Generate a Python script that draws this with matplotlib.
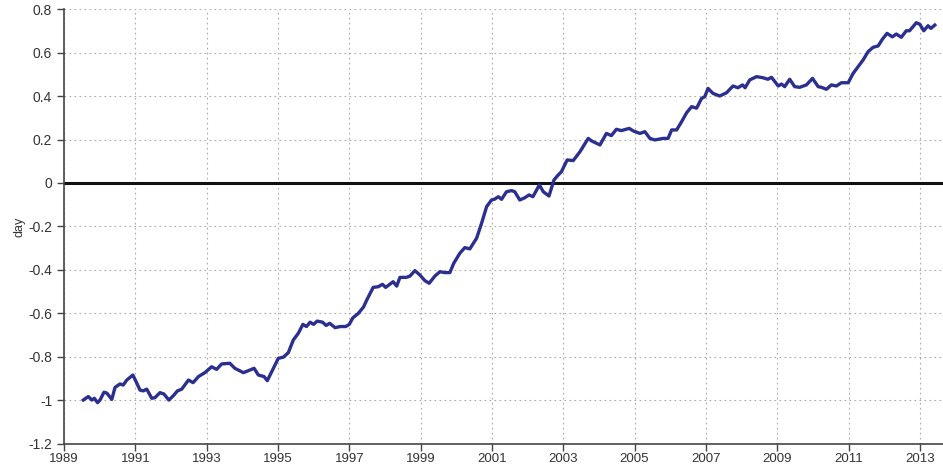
import matplotlib.pyplot as plt

plt.rcParams['font.family'] = ['Liberation Sans', 'DejaVu Sans']

# time (decimal years) and anomaly (day)
years = [
    1989.54, 1989.68, 1989.78, 1989.85, 1989.94, 1990.01, 1990.12, 1990.20, 1990.34, 1990.43,
    1990.57, 1990.66, 1990.76, 1990.82, 1990.93, 1991.02, 1991.13, 1991.22, 1991.32, 1991.46,
    1991.55, 1991.69, 1991.80, 1991.94, 1992.06, 1992.18, 1992.30, 1992.49, 1992.62, 1992.77,
    1992.95, 1993.14, 1993.28, 1993.42, 1993.65, 1993.79, 1994.03, 1994.17, 1994.33, 1994.45,
    1994.61, 1994.70, 1994.87, 1995.01, 1995.15, 1995.29, 1995.43, 1995.57, 1995.70, 1995.80,
    1995.90, 1996.00, 1996.10, 1996.25, 1996.35, 1996.45, 1996.60, 1996.75, 1996.90, 1997.00,
    1997.10, 1997.25, 1997.40, 1997.49, 1997.67, 1997.81, 1997.93, 1998.02, 1998.23, 1998.33,
    1998.42, 1998.60, 1998.70, 1998.84, 1998.98, 1999.12, 1999.24, 1999.40, 1999.54, 1999.68,
    1999.82, 1999.93, 2000.10, 2000.24, 2000.38, 2000.57, 2000.71, 2000.85, 2000.99, 2001.08,
    2001.18, 2001.27, 2001.41, 2001.55, 2001.64, 2001.78, 2001.92, 2002.04, 2002.15, 2002.33,
    2002.44, 2002.60, 2002.74, 2002.86, 2002.95, 2003.11, 2003.28, 2003.47, 2003.70, 2003.80,
    2004.03, 2004.21, 2004.35, 2004.49, 2004.63, 2004.85, 2004.97, 2005.15, 2005.29, 2005.43,
    2005.57, 2005.80, 2005.94, 2006.04, 2006.18, 2006.32, 2006.46, 2006.60, 2006.74, 2006.88,
    2006.97, 2007.06, 2007.20, 2007.39, 2007.58, 2007.76, 2007.90, 2008.03, 2008.10, 2008.23,
    2008.42, 2008.60, 2008.74, 2008.84, 2009.03, 2009.12, 2009.21, 2009.35, 2009.49, 2009.63,
    2009.82, 2009.99, 2010.15, 2010.24, 2010.38, 2010.52, 2010.66, 2010.80, 2010.99, 2011.13,
    2011.27, 2011.41, 2011.55, 2011.69, 2011.83, 2011.95, 2012.08, 2012.23, 2012.34, 2012.48,
    2012.62, 2012.71, 2012.81, 2012.90, 2013.00, 2013.11, 2013.23, 2013.31, 2013.42,
]
anomaly = [
    -0.998, -0.982, -0.998, -0.990, -1.010, -0.998, -0.962, -0.966, -0.995, -0.940,
    -0.924, -0.929, -0.906, -0.898, -0.883, -0.913, -0.952, -0.956, -0.948, -0.990,
    -0.987, -0.964, -0.970, -0.998, -0.979, -0.956, -0.948, -0.906, -0.918, -0.890,
    -0.872, -0.845, -0.857, -0.832, -0.829, -0.852, -0.872, -0.863, -0.852, -0.883,
    -0.890, -0.909, -0.852, -0.806, -0.801, -0.780, -0.722, -0.691, -0.650, -0.660,
    -0.640, -0.650, -0.635, -0.640, -0.655, -0.645, -0.665, -0.660, -0.660, -0.650,
    -0.620, -0.600, -0.570, -0.538, -0.480, -0.477, -0.466, -0.480, -0.454, -0.474,
    -0.434, -0.434, -0.428, -0.403, -0.423, -0.449, -0.461, -0.428, -0.408, -0.412,
    -0.412, -0.369, -0.323, -0.297, -0.303, -0.254, -0.185, -0.109, -0.078, -0.074,
    -0.063, -0.075, -0.040, -0.035, -0.040, -0.078, -0.068, -0.055, -0.063, -0.009,
    -0.040, -0.060, 0.014, 0.037, 0.052, 0.106, 0.103, 0.144, 0.205, 0.193,
    0.175, 0.228, 0.218, 0.247, 0.241, 0.251, 0.239, 0.228, 0.236, 0.205,
    0.198, 0.205, 0.205, 0.244, 0.244, 0.282, 0.323, 0.351, 0.344, 0.389,
    0.397, 0.435, 0.412, 0.400, 0.415, 0.446, 0.438, 0.451, 0.438, 0.474,
    0.489, 0.484, 0.477, 0.486, 0.446, 0.455, 0.443, 0.477, 0.443, 0.440,
    0.451, 0.481, 0.443, 0.440, 0.431, 0.451, 0.446, 0.461, 0.461, 0.504,
    0.535, 0.566, 0.604, 0.624, 0.630, 0.661, 0.688, 0.672, 0.685, 0.670,
    0.700, 0.700, 0.719, 0.737, 0.730, 0.700, 0.723, 0.711, 0.726,
]

xticks = list(range(1989, 2014, 2))
yticks = [0.8, 0.6, 0.4, 0.2, 0, -0.2, -0.4, -0.6, -0.8, -1, -1.2]
ytick_labels = ['0.8', '0.6', '0.4', '0.2', '0', '-0.2', '-0.4', '-0.6', '-0.8', '-1', '-1.2']

fig = plt.figure(figsize=(9.43, 4.67), dpi=100)
ax = fig.add_axes([0.0679, 0.0493, 0.9321, 0.9314])

ax.plot(years, anomaly, color='#2b2f8f', lw=2.4, solid_joinstyle='round', zorder=3)
ax.axhline(0, color='#111111', lw=2.2, zorder=2)

ax.set_xlim(1989, 2013.65)
ax.set_ylim(-1.2, 0.8)
ax.set_xticks(xticks)
ax.set_xticklabels([str(x) for x in xticks])
ax.set_yticks(yticks)
ax.set_yticklabels(ytick_labels)
ax.grid(True, color='#aaaaaa', linestyle=(0, (1.5, 3)), lw=0.8)
ax.set_axisbelow(True)

for side in ['top', 'right']:
    ax.spines[side].set_visible(False)
for side in ['left', 'bottom']:
    ax.spines[side].set_color('#444444')
    ax.spines[side].set_linewidth(1.2)

ax.tick_params(axis='both', direction='out', length=5, width=1, colors='#444444',
               labelcolor='#333333', labelsize=10)
ax.tick_params(axis='x', pad=1.5, labelsize=9.5)
ax.set_ylabel('day', fontsize=9, color='#333333', labelpad=2)

fig.savefig('out.png', dpi=100)
